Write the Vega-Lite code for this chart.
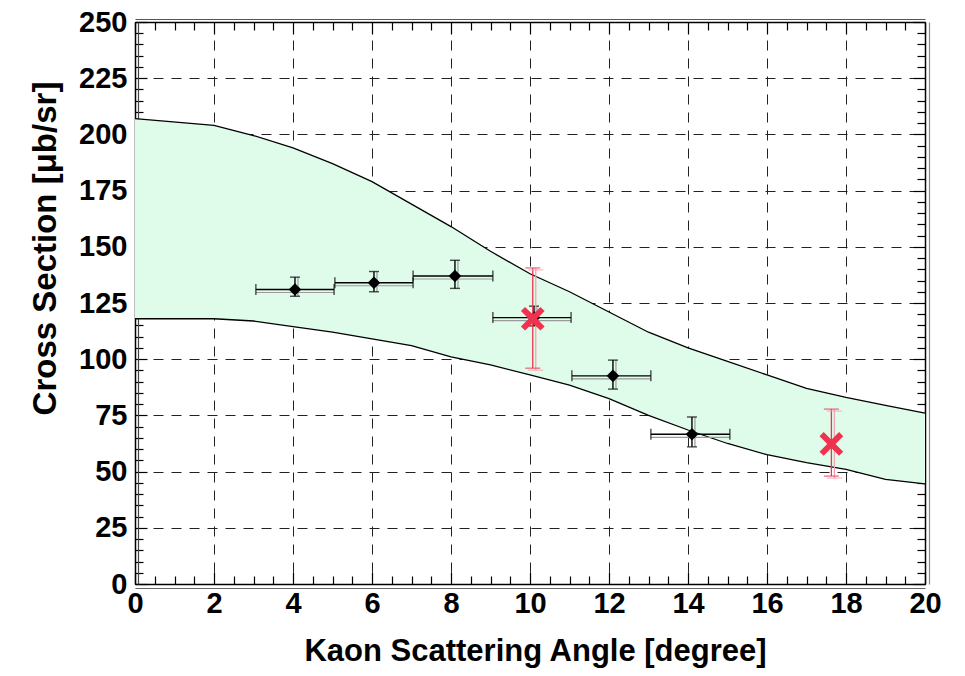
{
  "$schema": "https://vega.github.io/schema/vega-lite/v6.json",
  "width": 790,
  "height": 562,
  "autosize": {"type": "none"},
  "padding": {"left": 135, "top": 22, "right": 40, "bottom": 92},
  "background": "white",
  "config": {
    "view": {"stroke": null},
    "axis": {
      "labelFont": "Liberation Sans",
      "labelFontWeight": "bold",
      "labelColor": "black",
      "titleFont": "Liberation Sans",
      "titleFontWeight": "bold",
      "titleColor": "black",
      "domainColor": "black",
      "tickColor": "black",
      "zindex": 1
    }
  },
  "datasets": {
    "band": [
      {"angle": 0, "lo": 118, "hi": 207},
      {"angle": 2, "lo": 118, "hi": 204},
      {"angle": 3, "lo": 117, "hi": 199.5},
      {"angle": 4, "lo": 114.5, "hi": 194},
      {"angle": 5, "lo": 112, "hi": 187},
      {"angle": 6, "lo": 109, "hi": 179},
      {"angle": 7, "lo": 106, "hi": 169},
      {"angle": 8, "lo": 101, "hi": 159},
      {"angle": 9, "lo": 97.5, "hi": 148},
      {"angle": 10, "lo": 93, "hi": 138},
      {"angle": 11, "lo": 88.5, "hi": 130},
      {"angle": 12, "lo": 82.5, "hi": 121},
      {"angle": 13, "lo": 75, "hi": 112},
      {"angle": 14, "lo": 68.5, "hi": 105},
      {"angle": 15, "lo": 62.5, "hi": 99},
      {"angle": 16, "lo": 57.5, "hi": 93},
      {"angle": 17, "lo": 54, "hi": 87},
      {"angle": 18, "lo": 51, "hi": 83},
      {"angle": 19, "lo": 46.5, "hi": 79.5},
      {"angle": 20, "lo": 44.5, "hi": 76}
    ],
    "points": [
      {"angle": 4.05, "xs": 131, "alo": 3.06, "ahi": 5.04, "xslo": 128, "xshi": 136.5},
      {"angle": 6.05, "xs": 134, "alo": 5.06, "ahi": 7.04, "xslo": 130, "xshi": 139},
      {"angle": 8.1, "xs": 137, "alo": 7.04, "ahi": 9.06, "xslo": 131.5, "xshi": 144},
      {"angle": 10.1, "xs": 118.5, "alo": 9.06, "ahi": 11.04, "xslo": 114.8, "xshi": 123.6},
      {"angle": 12.1, "xs": 92.6, "alo": 11.06, "ahi": 13.06, "xslo": 86.7, "xshi": 99.6},
      {"angle": 14.1, "xs": 66.6, "alo": 13.06, "ahi": 15.06, "xslo": 61, "xshi": 74.3}
    ],
    "measured": [
      {"angle": 10.07, "xs": 118, "xslo": 96, "xshi": 140.6},
      {"angle": 17.63, "xs": 62.3, "xslo": 48, "xshi": 77.8}
    ]
  },
  "resolve": {"axis": {"x": "independent", "y": "independent"}},
  "layer": [
    {
      "data": {"name": "band"},
      "mark": {"type": "area", "color": "#dffbea", "opacity": 1},
      "encoding": {
        "x": {
          "field": "angle", "type": "quantitative",
          "scale": {"domain": [0, 20], "nice": false, "zero": false},
          "axis": {
            "orient": "bottom", "values": [0, 2, 4, 6, 8, 10, 12, 14, 16, 18, 20],
            "format": "d", "ticks": false, "labelFontSize": 29, "labelPadding": 5,
            "labelFlush": false, "grid": true, "gridColor": "#222", "gridDash": [10, 8],
            "gridWidth": 1, "domainWidth": 1.5,
            "title": "Kaon Scattering Angle [degree]", "titleFontSize": 31,
            "titleX": 400, "titleY": 76, "titleBaseline": "alphabetic", "titleAlign": "center"
          }
        },
        "y": {
          "field": "lo", "type": "quantitative",
          "scale": {"domain": [0, 250], "nice": false, "zero": true},
          "axis": {
            "orient": "left", "values": [0, 25, 50, 75, 100, 125, 150, 175, 200, 225, 250],
            "format": "d", "ticks": false, "labelFontSize": 29, "labelPadding": 8,
            "labelFlush": false, "grid": true, "gridColor": "#222", "gridDash": [10, 8],
            "gridWidth": 1, "domainWidth": 1.5,
            "title": "Cross Section [μb/sr]", "titleFontSize": 33, "titleAngle": -90,
            "titleX": -80, "titleY": 226, "titleBaseline": "alphabetic", "titleAlign": "center"
          }
        },
        "y2": {"field": "hi"}
      }
    },
    {
      "data": {"name": "band"},
      "mark": {"type": "line", "color": "black", "strokeWidth": 1.3},
      "encoding": {
        "x": {
          "field": "angle", "type": "quantitative",
          "axis": {
            "orient": "bottom", "values": [0, 2, 4, 6, 8, 10, 12, 14, 16, 18, 20],
            "labels": false, "grid": false, "domain": false, "tickSize": -12, "tickWidth": 1.2, "title": null
          }
        },
        "y": {
          "field": "hi", "type": "quantitative",
          "axis": {
            "orient": "left", "values": [0, 25, 50, 75, 100, 125, 150, 175, 200, 225, 250],
            "labels": false, "grid": false, "domain": false, "tickSize": -12, "tickWidth": 1.2, "title": null
          }
        }
      }
    },
    {
      "data": {"name": "band"},
      "mark": {"type": "line", "color": "black", "strokeWidth": 1.3},
      "encoding": {
        "x": {
          "field": "angle", "type": "quantitative",
          "axis": {
            "orient": "bottom",
            "values": [0.5, 1, 1.5, 2.5, 3, 3.5, 4.5, 5, 5.5, 6.5, 7, 7.5, 8.5, 9, 9.5, 10.5, 11, 11.5, 12.5, 13, 13.5, 14.5, 15, 15.5, 16.5, 17, 17.5, 18.5, 19, 19.5],
            "labels": false, "grid": false, "domain": false, "tickSize": -8, "tickWidth": 1.2, "title": null
          }
        },
        "y": {
          "field": "lo", "type": "quantitative",
          "axis": {
            "orient": "left",
            "values": [5, 10, 15, 20, 30, 35, 40, 45, 55, 60, 65, 70, 80, 85, 90, 95, 105, 110, 115, 120, 130, 135, 140, 145, 155, 160, 165, 170, 180, 185, 190, 195, 205, 210, 215, 220, 230, 235, 240, 245],
            "labels": false, "grid": false, "domain": false, "tickSize": -8, "tickWidth": 1.2, "title": null
          }
        }
      }
    },
    {
      "data": {"name": "points"},
      "mark": {"type": "rule", "color": "#9a9a9a", "strokeWidth": 1.2, "yOffset": 3},
      "encoding": {
        "x": {
          "field": "alo", "type": "quantitative",
          "axis": {
            "orient": "top", "values": [0, 2, 4, 6, 8, 10, 12, 14, 16, 18, 20],
            "labels": false, "grid": false, "domainWidth": 1.5, "tickSize": -12, "tickWidth": 1.2, "title": null
          }
        },
        "x2": {"field": "ahi"},
        "y": {
          "field": "xs", "type": "quantitative",
          "axis": {
            "orient": "right", "values": [0, 25, 50, 75, 100, 125, 150, 175, 200, 225, 250],
            "labels": false, "grid": false, "domainWidth": 1.5, "tickSize": -12, "tickWidth": 1.2, "title": null
          }
        }
      }
    },
    {
      "data": {"name": "points"},
      "mark": {"type": "rule", "color": "#9a9a9a", "strokeWidth": 1.2, "xOffset": 3},
      "encoding": {
        "x": {
          "field": "angle", "type": "quantitative",
          "axis": {
            "orient": "top",
            "values": [0.5, 1, 1.5, 2.5, 3, 3.5, 4.5, 5, 5.5, 6.5, 7, 7.5, 8.5, 9, 9.5, 10.5, 11, 11.5, 12.5, 13, 13.5, 14.5, 15, 15.5, 16.5, 17, 17.5, 18.5, 19, 19.5],
            "labels": false, "grid": false, "domain": false, "tickSize": -8, "tickWidth": 1.2, "title": null
          }
        },
        "y": {
          "field": "xslo", "type": "quantitative",
          "axis": {
            "orient": "right",
            "values": [5, 10, 15, 20, 30, 35, 40, 45, 55, 60, 65, 70, 80, 85, 90, 95, 105, 110, 115, 120, 130, 135, 140, 145, 155, 160, 165, 170, 180, 185, 190, 195, 205, 210, 215, 220, 230, 235, 240, 245],
            "labels": false, "grid": false, "domain": false, "tickSize": -8, "tickWidth": 1.2, "title": null
          }
        },
        "y2": {"field": "xshi"}
      }
    },
    {
      "data": {"name": "points"},
      "mark": {"type": "rule", "color": "black", "strokeWidth": 1.4},
      "encoding": {
        "x": {
          "field": "alo", "type": "quantitative",
          "axis": {
            "orient": "bottom", "offset": 4, "values": [], "labels": false, "ticks": false,
            "grid": false, "domainColor": "#666", "domainWidth": 1.2, "title": null
          }
        },
        "x2": {"field": "ahi"},
        "y": {
          "field": "xs", "type": "quantitative",
          "axis": {
            "orient": "left", "offset": -3, "values": [], "labels": false, "ticks": false,
            "grid": false, "domainColor": "#444", "domainWidth": 1.2, "title": null
          }
        }
      }
    },
    {
      "data": {"name": "points"},
      "transform": [{"fold": ["alo", "ahi"], "as": ["end", "aend"]}],
      "mark": {"type": "tick", "orient": "vertical", "color": "black", "size": 11, "thickness": 1.4},
      "encoding": {
        "x": {
          "field": "aend", "type": "quantitative",
          "axis": {
            "orient": "top", "offset": 3, "values": [], "labels": false, "ticks": false,
            "grid": false, "domainColor": "#555", "domainWidth": 1.2, "title": null
          }
        },
        "y": {
          "field": "xs", "type": "quantitative",
          "axis": {
            "orient": "right", "offset": 4, "values": [], "labels": false, "ticks": false,
            "grid": false, "domainColor": "#888", "domainWidth": 1.2, "title": null
          }
        }
      }
    },
    {
      "data": {"name": "points"},
      "mark": {"type": "rule", "color": "black", "strokeWidth": 1.4},
      "encoding": {
        "x": {"field": "angle", "type": "quantitative", "axis": null},
        "y": {"field": "xslo", "type": "quantitative", "axis": null},
        "y2": {"field": "xshi"}
      }
    },
    {
      "data": {"name": "points"},
      "transform": [{"fold": ["xslo", "xshi"], "as": ["end", "xsend"]}],
      "mark": {"type": "tick", "orient": "horizontal", "color": "black", "size": 10, "thickness": 1.4},
      "encoding": {
        "x": {"field": "angle", "type": "quantitative", "axis": null},
        "y": {"field": "xsend", "type": "quantitative", "axis": null}
      }
    },
    {
      "data": {"name": "points"},
      "mark": {"type": "point", "shape": "diamond", "filled": true, "color": "black", "size": 160, "opacity": 1},
      "encoding": {
        "x": {"field": "angle", "type": "quantitative", "axis": null},
        "y": {"field": "xs", "type": "quantitative", "axis": null}
      }
    },
    {
      "data": {"name": "measured"},
      "mark": {"type": "rule", "color": "#f6a3b3", "strokeWidth": 1.3, "xOffset": 3, "yOffset": 2},
      "encoding": {
        "x": {"field": "angle", "type": "quantitative", "axis": null},
        "y": {"field": "xslo", "type": "quantitative", "axis": null},
        "y2": {"field": "xshi"}
      }
    },
    {
      "data": {"name": "measured"},
      "mark": {"type": "rule", "color": "#f0324f", "strokeWidth": 1.3},
      "encoding": {
        "x": {"field": "angle", "type": "quantitative", "axis": null},
        "y": {"field": "xslo", "type": "quantitative", "axis": null},
        "y2": {"field": "xshi"}
      }
    },
    {
      "data": {"name": "measured"},
      "transform": [{"fold": ["xslo", "xshi"], "as": ["end", "xsend"]}],
      "mark": {"type": "tick", "orient": "horizontal", "color": "#f6a3b3", "size": 15, "thickness": 1.3, "xOffset": 3, "yOffset": 2},
      "encoding": {
        "x": {"field": "angle", "type": "quantitative", "axis": null},
        "y": {"field": "xsend", "type": "quantitative", "axis": null}
      }
    },
    {
      "data": {"name": "measured"},
      "transform": [{"fold": ["xslo", "xshi"], "as": ["end", "xsend"]}],
      "mark": {"type": "tick", "orient": "horizontal", "color": "#f0324f", "size": 15, "thickness": 1.3},
      "encoding": {
        "x": {"field": "angle", "type": "quantitative", "axis": null},
        "y": {"field": "xsend", "type": "quantitative", "axis": null}
      }
    },
    {
      "data": {"name": "measured"},
      "mark": {
        "type": "point",
        "shape": "M-1,-0.65L-0.65,-1L0,-0.35L0.65,-1L1,-0.65L0.35,0L1,0.65L0.65,1L0,0.35L-0.65,1L-1,0.65L-0.35,0Z",
        "filled": true, "color": "#f0324f", "size": 560, "opacity": 1, "strokeWidth": 0
      },
      "encoding": {
        "x": {"field": "angle", "type": "quantitative", "axis": null},
        "y": {"field": "xs", "type": "quantitative", "axis": null}
      }
    }
  ]
}
